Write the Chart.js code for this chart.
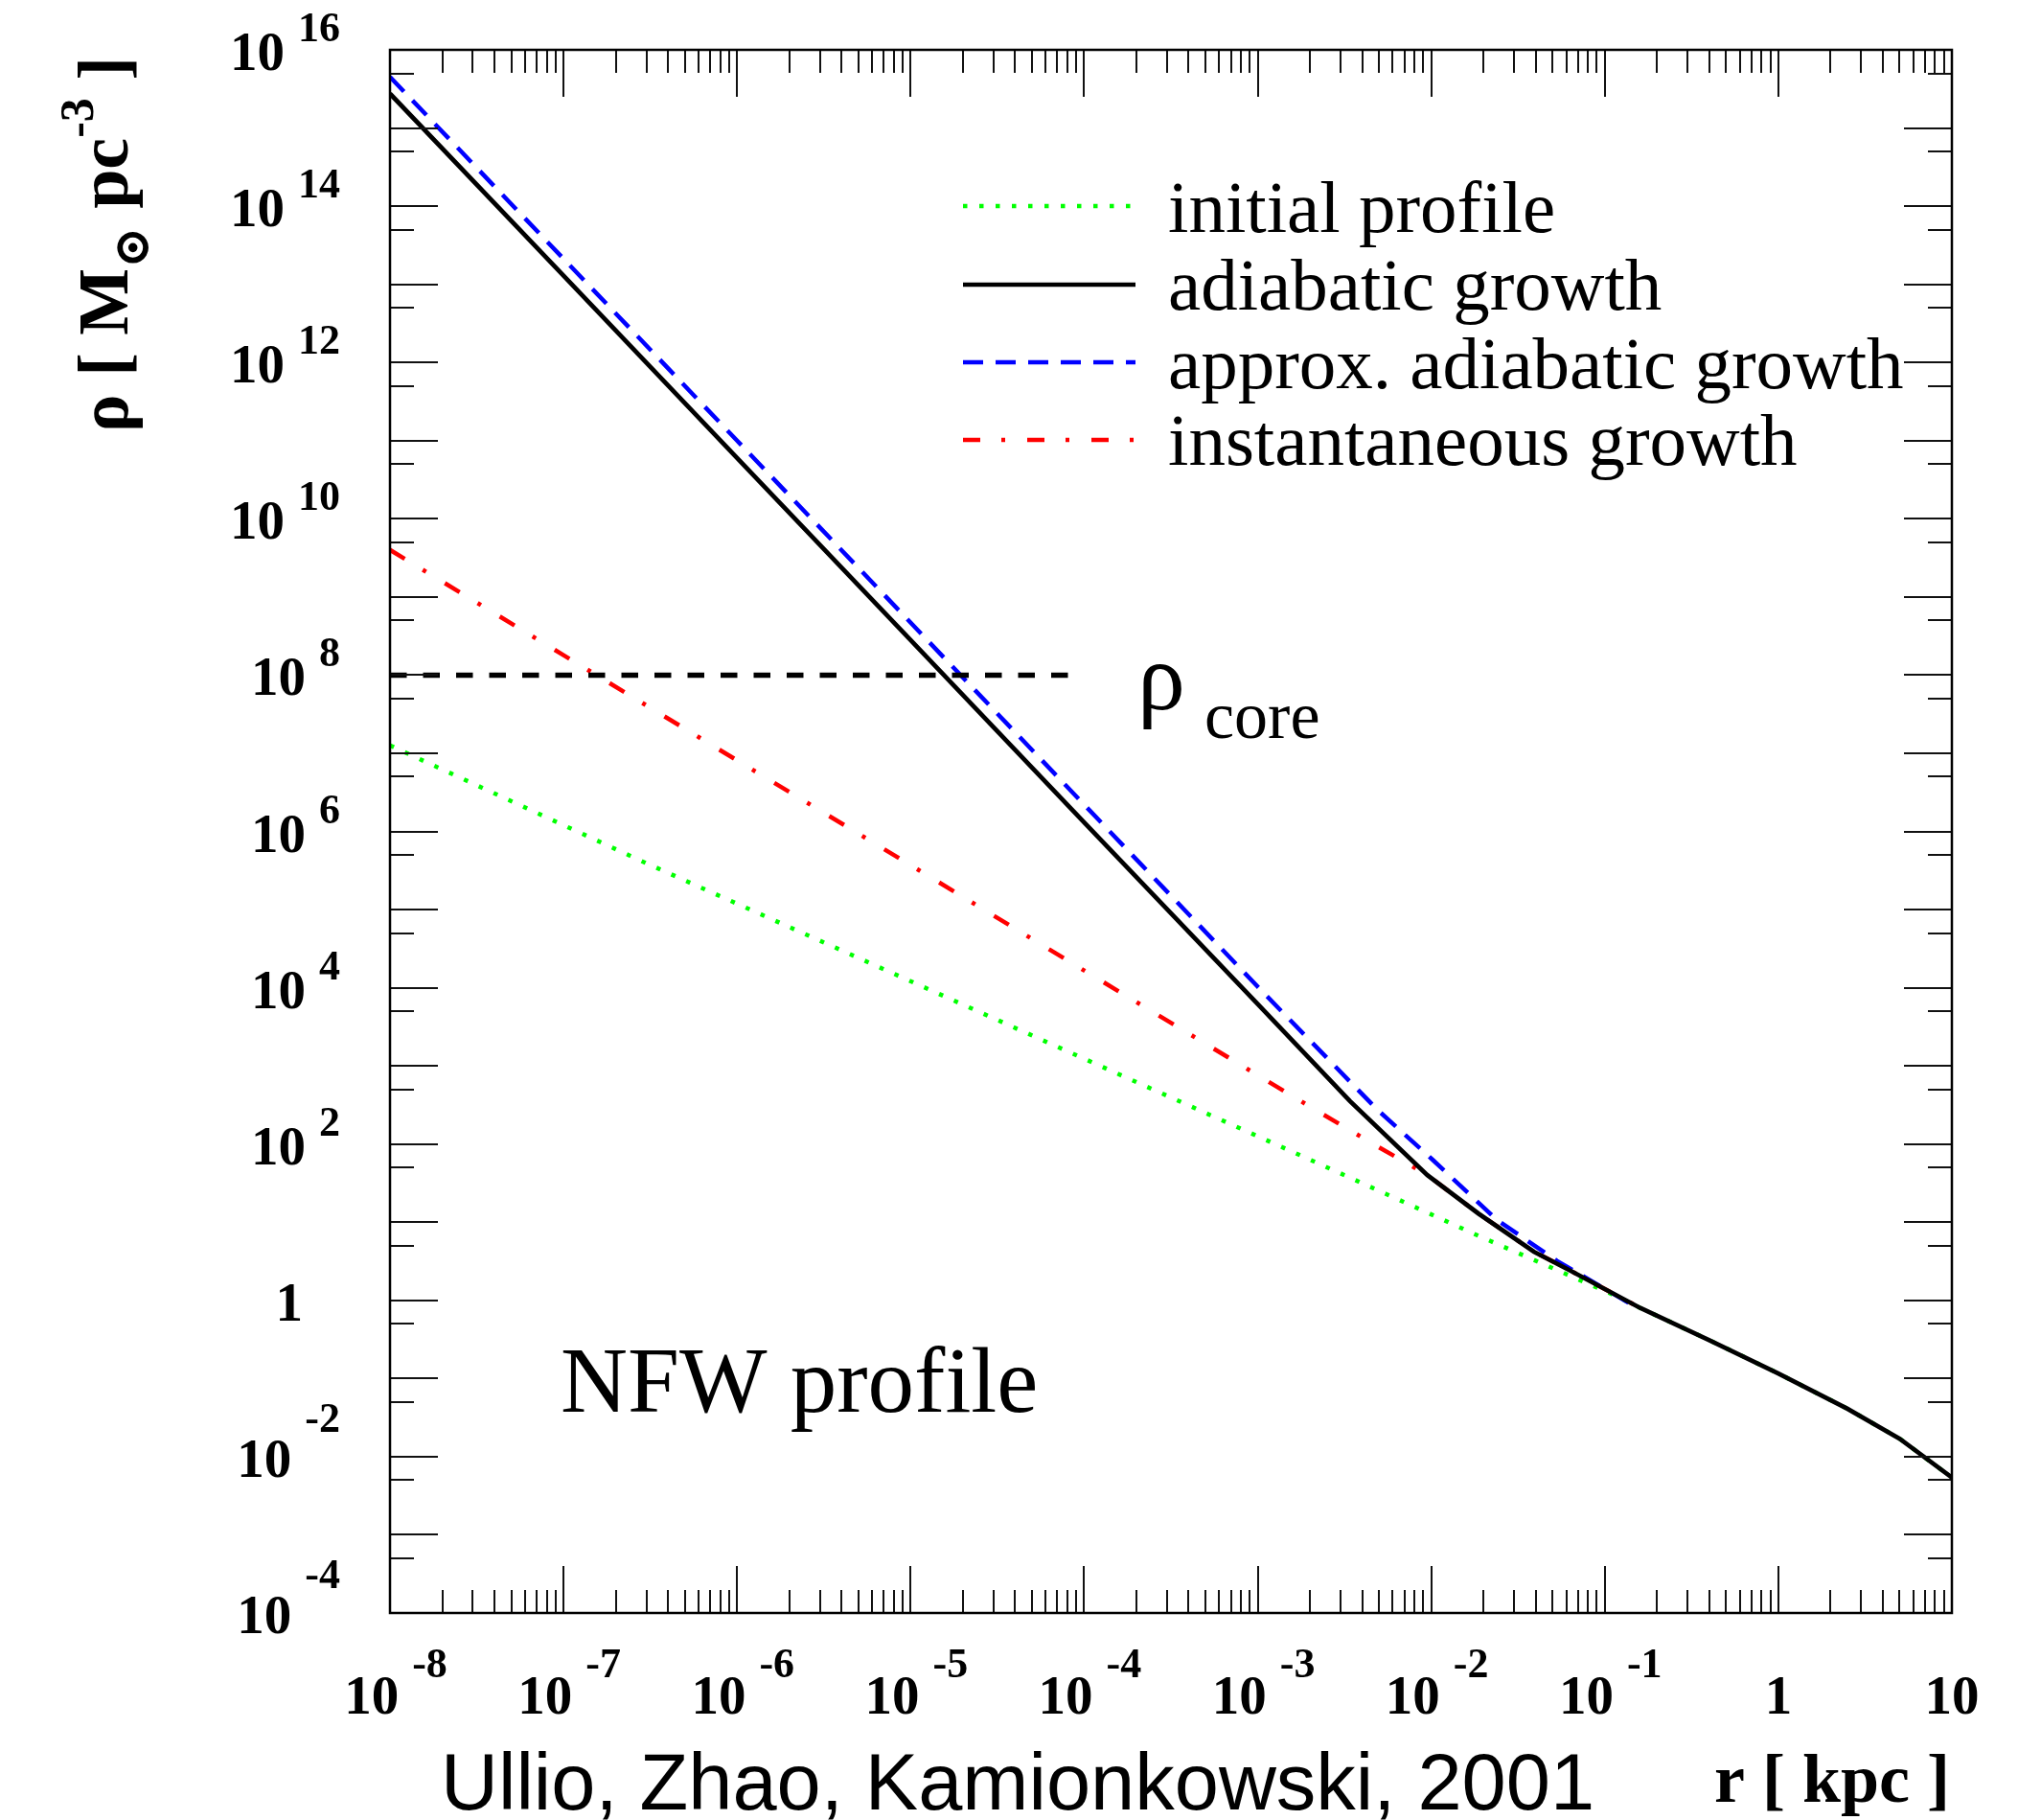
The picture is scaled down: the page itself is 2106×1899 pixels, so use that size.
<!DOCTYPE html>
<html>
<head>
<meta charset="utf-8">
<script src="https://cdn.jsdelivr.net/npm/chart.js@4.4.0/dist/chart.umd.min.js"></script>
<style>
  html, body { margin: 0; padding: 0; background: #fff; }
  canvas { display: block; }
</style>
</head>
<body>
<canvas id="c" width="2106" height="1899"></canvas>
<script>
'use strict';

// values: r in kpc, rho in Msun / pc^3
const initialR   = [1e-8, 2.94e-7, 1.62e-3, 5.48e-3, 1.87e-2, 4.15e-2, 0.118, 0.16, 0.4, 1, 2.5, 5, 10];
const initialRho = [1.26e7, 4.0e5, 78, 23, 6.7, 3.1, 1.12, 0.80, 0.31, 0.116, 0.041, 0.017, 0.0054];

const adiabaticR   = [1e-8, 1e-7, 1e-6, 1e-5, 1e-4, 1e-3, 3.4e-3, 9.5e-3, 1.87e-2, 3.9e-2, 6.4e-2, 0.16, 0.4, 1, 2.5, 5, 10];
const adiabaticRho = [2.75e15, 1.29e13, 6.0e10, 2.8e8, 1.3e6, 6.2e3, 355, 40, 12.9, 4.2, 2.37, 0.80, 0.31, 0.116, 0.041, 0.017, 0.0054];

const approxR   = [1e-8, 1e-6, 1e-4, 1e-3, 4.85e-3, 1.01e-2, 2.39e-2, 5.3e-2, 0.141];
const approxRho = [4.5e15, 1.0e11, 2.2e6, 1.03e4, 280, 64, 10.7, 3.2, 0.9];

const instantR   = [1e-8, 1e-7, 1e-6, 1e-5, 1e-4, 1e-3, 2.06e-3, 4.57e-3, 9.5e-3, 1.87e-2, 3.9e-2, 6.4e-2, 0.16];
const instantRho = [4.0e9, 1.8e8, 8.1e6, 3.7e5, 1.66e4, 760, 290, 102, 40, 12.9, 4.2, 2.37, 0.80];

const coreR   = [1e-8, 8.2e-5];
const coreRho = [1e8, 1e8];

const xTickValues = [1e-8, 1e-7, 1e-6, 1e-5, 1e-4, 1e-3, 1e-2, 1e-1, 1, 10];
const xTickLabels = [['10', '-8'], ['10', '-7'], ['10', '-6'], ['10', '-5'], ['10', '-4'],
                     ['10', '-3'], ['10', '-2'], ['10', '-1'], ['1', ''], ['10', '']];
const yTickValues = [1e16, 1e14, 1e12, 1e10, 1e8, 1e6, 1e4, 1e2, 1, 1e-2, 1e-4];
const yTickLabels = [['10', '16'], ['10', '14'], ['10', '12'], ['10', '10'], ['10', '8'], ['10', '6'],
                     ['10', '4'], ['10', '2'], ['1', ''], ['10', '-2'], ['10', '-4']];

const SERIF = '"Liberation Serif", "Times New Roman", serif';
const SANS = '"Liberation Sans", Arial, sans-serif';

const pts = (xs, ys) => xs.map((v, i) => ({ x: v, y: ys[i] }));

const styles = {
  initial:   { borderColor: '#00ff00', borderWidth: 4.5, borderDash: [4.5, 12.5] },
  adiabatic: { borderColor: '#000000', borderWidth: 4.7, borderDash: [] },
  approx:    { borderColor: '#0000ff', borderWidth: 4.5, borderDash: [21, 13] },
  instant:   { borderColor: '#ff0000', borderWidth: 4.5, borderDash: [18, 22, 4, 23] },
};

function drawPow(ctx, base, exp, x, yBase, align, raise) {
  ctx.font = 'bold 57px ' + SERIF;
  const wb = ctx.measureText(base).width;
  ctx.font = 'bold 44px ' + SERIF;
  const we = exp ? ctx.measureText(exp).width : 0;
  const gap = exp ? 14 : 0;
  const w = wb + gap + we;
  const left = align === 'right' ? x - w : x - w / 2;
  ctx.textAlign = 'left';
  ctx.textBaseline = 'alphabetic';
  ctx.font = 'bold 57px ' + SERIF;
  ctx.fillText(base, left, yBase);
  if (exp) {
    ctx.font = 'bold 44px ' + SERIF;
    ctx.fillText(exp, left + wb + gap, yBase - raise);
  }
}

const frame = {
  id: 'frame',
  afterDatasetsDraw(chart) {
    const { ctx, chartArea: a, scales: { x, y } } = chart;
    ctx.save();
    ctx.strokeStyle = '#111';
    ctx.lineWidth = 2;
    ctx.beginPath();
    for (let e = -8; e <= 1; e++) {
      for (let k = 1; k <= 9; k++) {
        const v = k * Math.pow(10, e);
        if (v > 10.0001) break;
        const px = Math.round(x.getPixelForValue(v));
        const len = k === 1 ? 49 : 24;
        ctx.moveTo(px, a.bottom); ctx.lineTo(px, a.bottom - len);
        ctx.moveTo(px, a.top); ctx.lineTo(px, a.top + len);
      }
    }
    for (let e = -4; e <= 16; e++) {
      const v = Math.pow(10, e);
      const py = Math.round(y.getPixelForValue(v));
      ctx.moveTo(a.left, py); ctx.lineTo(a.left + 50, py);
      ctx.moveTo(a.right, py); ctx.lineTo(a.right - 50, py);
      if (e <= 15) {
        const pm = Math.round(y.getPixelForValue(5 * v));
        ctx.moveTo(a.left, pm); ctx.lineTo(a.left + 25, pm);
        ctx.moveTo(a.right, pm); ctx.lineTo(a.right - 25, pm);
      }
    }
    ctx.stroke();
    ctx.strokeStyle = '#000';
    ctx.lineWidth = 2.5;
    ctx.strokeRect(a.left, a.top, a.right - a.left, a.bottom - a.top);
    ctx.restore();
  }
};

const texts = {
  id: 'texts',
  afterDraw(chart) {
    const { ctx, scales: { x, y } } = chart;
    ctx.save();
    ctx.fillStyle = '#000';

    // x tick labels
    xTickValues.forEach((v, i) => {
      const [b, e] = xTickLabels[i];
      const px = x.getPixelForValue(v) + (e ? 6 : 0);
      drawPow(ctx, b, e, px, 1788, 'center', 38);
    });

    // y tick labels
    yTickValues.forEach((v, i) => {
      const [b, e] = yTickLabels[i];
      const py = y.getPixelForValue(v) + 21;
      const raise = e.startsWith('-') ? 47 : 30;
      drawPow(ctx, b, e, e ? 355 : 316, py, 'right', raise);
    });

    // x axis title
    ctx.font = 'bold 72px ' + SERIF;
    ctx.textAlign = 'right';
    ctx.fillText('r [ kpc ]', 2035, 1880);

    // citation
    ctx.font = '83px ' + SANS;
    ctx.textAlign = 'left';
    ctx.fillText('Ullio, Zhao, Kamionkowski, 2001', 460, 1888);

    // y axis title, rotated
    const parts = [
      { t: 'ρ [ M', f: 'bold 74px ' + SERIF, dy: 0 },
      { t: '⊙', f: 'bold 52px "DejaVu Serif", ' + SERIF, dy: 22 },
      { t: ' pc', f: 'bold 74px ' + SERIF, dy: 0 },
      { t: '-3', f: 'bold 50px ' + SERIF, dy: -36 },
      { t: ' ]', f: 'bold 74px ' + SERIF, dy: 0 },
    ];
    let total = 0;
    parts.forEach(p => { ctx.font = p.f; p.w = ctx.measureText(p.t).width; total += p.w; });
    ctx.save();
    ctx.translate(133, 255 + total / 2);
    ctx.rotate(-Math.PI / 2);
    ctx.textAlign = 'left';
    let cx = 0;
    parts.forEach(p => { ctx.font = p.f; ctx.fillText(p.t, cx, p.dy); cx += p.w; });
    ctx.restore();

    // annotations
    ctx.textAlign = 'left';
    ctx.font = '97px ' + SERIF;
    ctx.fillText('NFW profile', 585, 1473);
    ctx.font = '100px ' + SERIF;
    ctx.fillText('ρ', 1187, 740);
    ctx.font = '70px ' + SERIF;
    ctx.fillText('core', 1257, 770);

    // legend
    const rows = [
      ['initial profile', styles.initial],
      ['adiabatic growth', styles.adiabatic],
      ['approx. adiabatic growth', styles.approx],
      ['instantaneous growth', styles.instant],
    ];
    const lineY = [215, 297, 378, 459];
    const textY = [242, 323, 405, 485];
    rows.forEach(([label, s], i) => {
      ctx.save();
      ctx.strokeStyle = s.borderColor;
      ctx.lineWidth = s.borderWidth;
      ctx.lineCap = 'butt';
      ctx.setLineDash(s.borderDash);
      ctx.beginPath();
      ctx.moveTo(1005, lineY[i]);
      ctx.lineTo(1185, lineY[i]);
      ctx.stroke();
      ctx.restore();
      ctx.font = '77px ' + SERIF;
      ctx.fillText(label, 1219, textY[i]);
    });
    ctx.restore();
  }
};

new Chart(document.getElementById('c'), {
  type: 'line',
  data: {
    datasets: [
      Object.assign({ label: 'adiabatic growth', data: pts(adiabaticR, adiabaticRho) }, styles.adiabatic),
      { label: 'rho core', data: pts(coreR, coreRho), borderColor: '#000000', borderWidth: 5.5, borderDash: [17.5, 17] },
      Object.assign({ label: 'approx. adiabatic growth', data: pts(approxR, approxRho) }, styles.approx),
      Object.assign({ label: 'instantaneous growth', data: pts(instantR, instantRho) }, styles.instant),
      Object.assign({ label: 'initial profile', data: pts(initialR, initialRho) }, styles.initial),
    ]
  },
  options: {
    responsive: false,
    animation: false,
    devicePixelRatio: 1,
    layout: { padding: { left: 0, top: 52, right: 69, bottom: 0 } },
    elements: {
      point: { radius: 0 },
      line: { tension: 0, borderCapStyle: 'butt', fill: false }
    },
    plugins: { legend: { display: false }, tooltip: { enabled: false } },
    scales: {
      x: {
        type: 'logarithmic', min: 1e-8, max: 10,
        grid: { display: false }, border: { display: false }, ticks: { display: false },
        afterFit(s) { s.height = 216; }
      },
      y: {
        type: 'logarithmic', min: 1e-4, max: 1e16,
        grid: { display: false }, border: { display: false }, ticks: { display: false },
        afterFit(s) { s.width = 407; }
      }
    }
  },
  plugins: [frame, texts]
});
</script>
</body>
</html>
